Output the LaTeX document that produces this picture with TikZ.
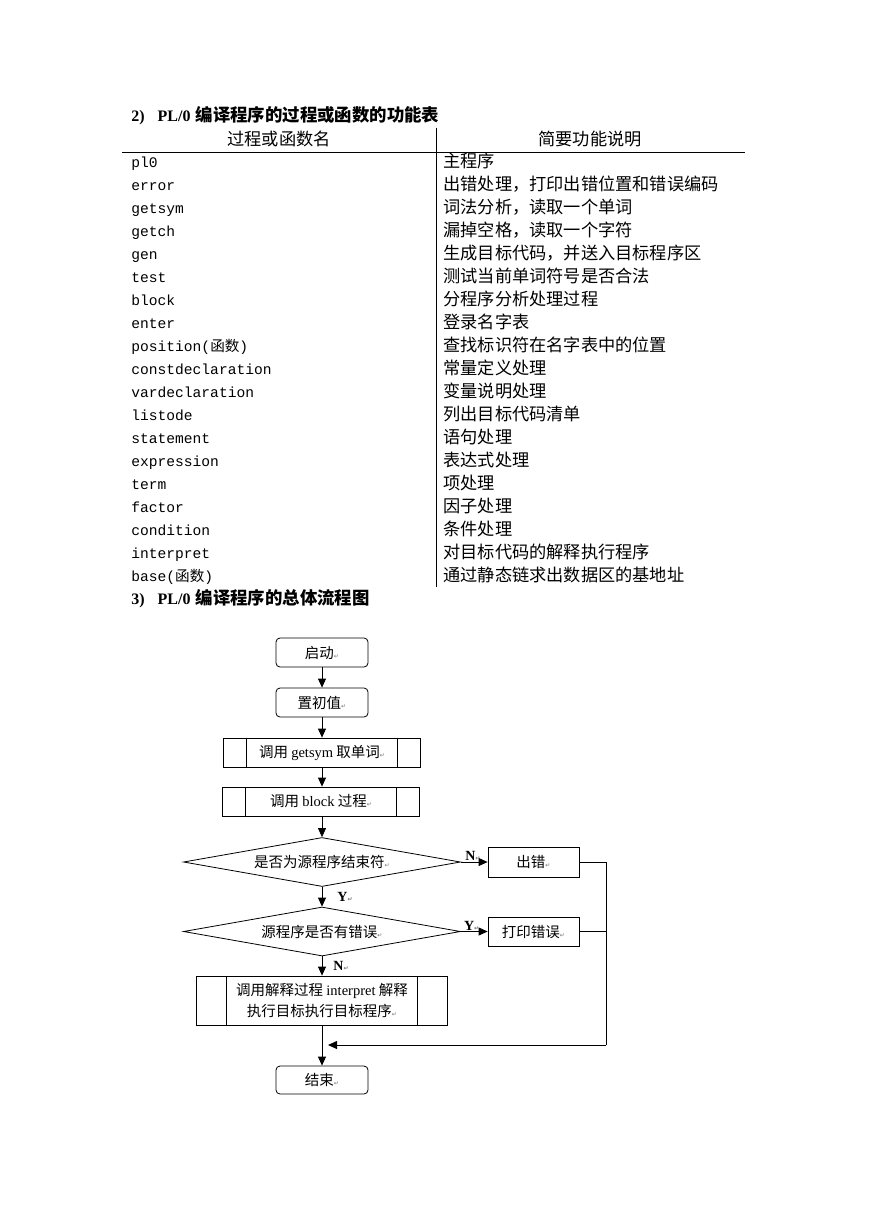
\documentclass[tikz,border=0pt]{standalone}
\usepackage{fontspec}
\setmainfont{Liberation Serif}
\newfontfamily\cjk{Noto Sans CJK SC}
\newfontfamily\mono{Liberation Mono}
\newfontfamily\marksym{DejaVu Sans}
\usetikzlibrary{arrows.meta,positioning,shapes.geometric}

% small paragraph mark as printed after each label
\newcommand{\retmark}{{\marksym\fontsize{6}{6}\selectfont\textcolor{black!55}{↵}}}
\newcommand{\lat}[1]{{\rmfamily #1}}

\tikzset{
  flow/.style={-{Triangle[length=9pt,width=8pt]}},
  terminal/.style={draw, rounded corners=4pt, minimum width=92pt, minimum height=29pt, inner sep=0pt},
  procbox/.style={draw, minimum width=91pt, minimum height=30pt, inner sep=0pt},
  subproc/.style={draw, minimum height=29pt, inner sep=0pt,
    path picture={
      \draw ([xshift=#1]path picture bounding box.north west) -- ([xshift=#1]path picture bounding box.south west);
      \draw ([xshift=-#1]path picture bounding box.north east) -- ([xshift=-#1]path picture bounding box.south east);
    }},
  subproc/.default=23pt,
  decision/.style={draw, diamond, aspect=5.7, minimum width=277pt, minimum height=49pt, inner sep=0pt},
  yn/.style={font=\rmfamily\bfseries\fontsize{14}{14}\selectfont, inner sep=1pt}
}

\begin{document}
\begin{tikzpicture}[x=1pt, y=-1pt, line width=0.8pt,
    namecell/.style={anchor=west, inner sep=0pt, text height=12pt, text depth=2pt, font=\mono\fontsize{14.6}{16}\selectfont},
    desccell/.style={anchor=west, inner sep=0pt, text height=13pt, text depth=3pt, font=\cjk\fontsize{17.2}{18}\selectfont},
    headcell/.style={inner sep=0pt, font=\cjk\fontsize{17.2}{18}\selectfont},
    title/.style={anchor=west, inner sep=0pt, font=\bfseries\fontsize{16}{18}\selectfont},
    font=\cjk\fontsize{14.5}{21}\selectfont]
  \fill[white] (0,0) rectangle (869,1228);
  \useasboundingbox (0,0) rectangle (869,1228);

  % section 2: table title and header
  \node[title] (tabtitle) at (131,116) {2)\hspace{13pt}PL/0\hspace{5pt}{\cjk\bfseries\fontsize{17.4}{18}\selectfont 编译程序的过程或函数的功能表}};
  \node[headcell] (hdname) at (279,139) {过程或函数名};
  \node[headcell] (hddesc) at (590,139) {简要功能说明};
  \draw[line width=0.9pt] (122,152) -- (745,152);
  \draw[line width=0.9pt] (436,128) -- (436,587);

  % table rows: y = 139 + 23*row
  \foreach \fn/\desc [count=\i, evaluate=\i as \ypos using 139+23*\i] in {
      pl0/主程序,
      error/出错处理，打印出错位置和错误编码,
      getsym/词法分析，读取一个单词,
      getch/漏掉空格，读取一个字符,
      gen/生成目标代码，并送入目标程序区,
      test/测试当前单词符号是否合法,
      block/分程序分析处理过程,
      enter/登录名字表,
      position({\cjk 函数})/查找标识符在名字表中的位置,
      constdeclaration/常量定义处理,
      vardeclaration/变量说明处理,
      listode/列出目标代码清单,
      statement/语句处理,
      expression/表达式处理,
      term/项处理,
      factor/因子处理,
      condition/条件处理,
      interpret/对目标代码的解释执行程序,
      base({\cjk 函数})/通过静态链求出数据区的基地址} {
    \node[namecell] (fn\i) at (131,\ypos) {\fn};
    \node[desccell] (desc\i) at (443,\ypos) {\desc};
  }

  % section 3: flow chart
  \node[title] (flowtitle) at (131,599) {3)\hspace{13pt}PL/0\hspace{5pt}{\cjk\bfseries\fontsize{17.4}{18}\selectfont 编译程序的总体流程图}};

  \node[terminal] (start) at (322,652.5) {启动\retmark};
  \node[terminal] (init) at (322,702.5) {置初值\retmark};
  \node[subproc, minimum width=197pt] (getsym) at (322,752.5) {调用 \lat{getsym} 取单词\retmark};
  \node[subproc, minimum width=197pt] (blk) at (321,801.5) {调用 \lat{block} 过程\retmark};
  \node[decision] (isend) at (322,862) {是否为源程序结束符\retmark};
  \node[procbox] (err) at (533.5,862) {出错\retmark};
  \node[decision] (haserr) at (322,931.5) {源程序是否有错误\retmark};
  \node[procbox, minimum height=29pt] (prterr) at (533.5,931.5) {打印错误\retmark};
  \node[subproc=30pt, minimum width=251pt, minimum height=49pt, align=center] (interp) at (322,1000.5)
    {调用解释过程 \lat{interpret} 解释\\ 执行目标执行目标程序\retmark};
  \node[terminal, minimum height=28pt] (finish) at (322,1080) {结束\retmark};
  \coordinate (rail) at (606,1045);
  \coordinate (join) at (328,1045);

  % connectors
  \draw[flow] (start) -- (init);
  \draw[flow] (init) -- (getsym);
  \draw[flow] (getsym.south) -- (getsym.south |- blk.north);
  \draw[flow] (getsym.south |- blk.south) -- (isend.north);
  \draw[flow] (isend) -- node[yn, above, pos=0.45] (lbln1) {N\retmark} (err);
  \draw[flow] (isend) -- node[yn, right=14pt] (lbly1) {Y\retmark} (haserr);
  \draw[flow] (haserr) -- node[yn, above, pos=0.4] (lbly2) {Y\retmark} (prterr);
  \draw[flow] (haserr) -- node[yn, right=10pt] (lbln2) {N\retmark} (interp);
  \draw[flow] (interp) -- (finish);
  \draw (err.east) -| (rail);
  \draw (prterr.east) -- (prterr.east -| rail);
  \draw[flow] (rail) -- (join);
\end{tikzpicture}
\end{document}
